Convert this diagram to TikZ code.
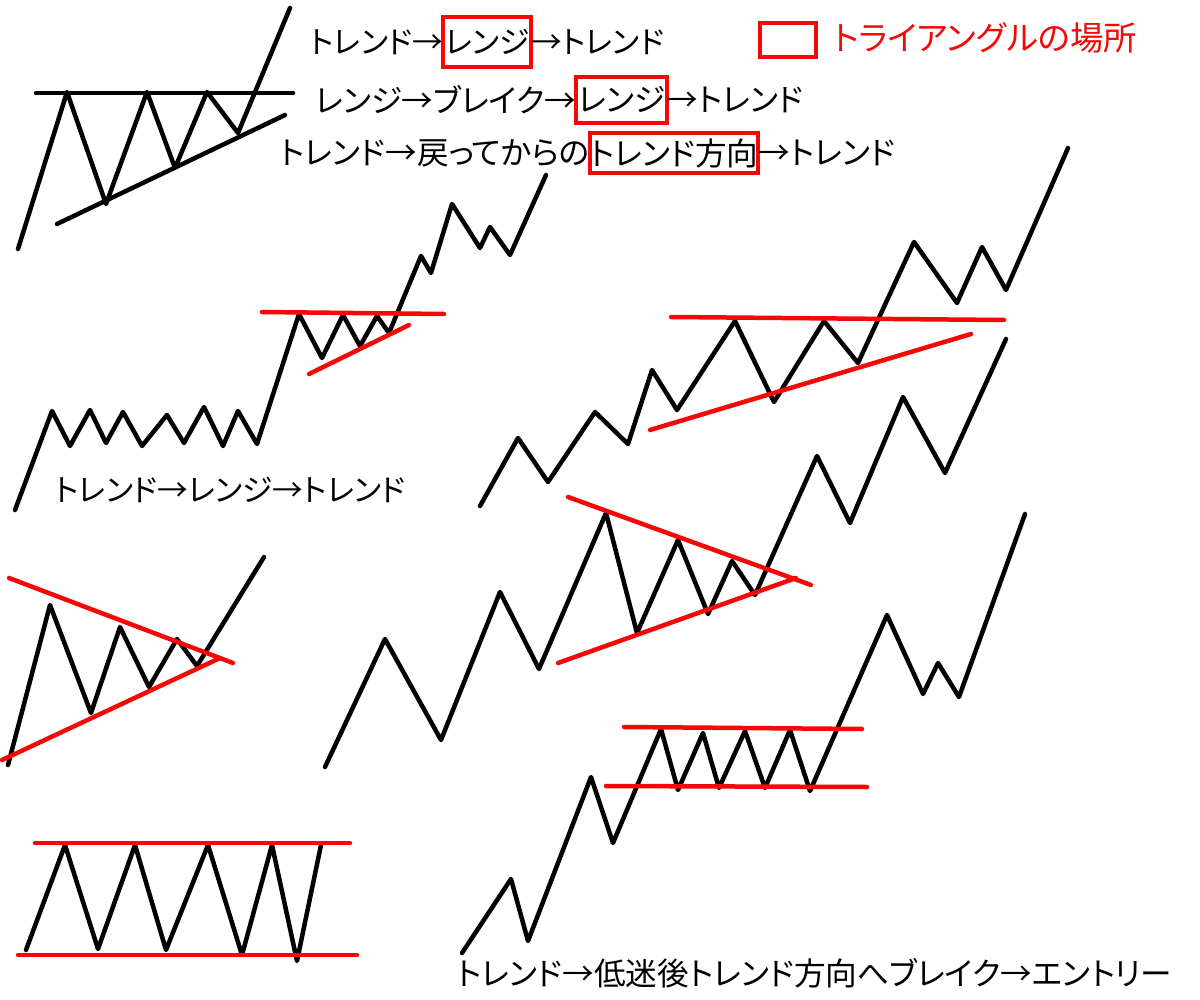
\documentclass[tikz,border=0pt]{standalone}
\usepackage{fontspec}
\newfontfamily\jp[RawFeature=+palt]{Noto Sans CJK JP}
\definecolor{rd}{RGB}{245,8,8}
\begin{document}
\begin{tikzpicture}[x=0.02cm,y=-0.02cm,
  blk/.style={line width=0.09cm, black, line cap=round, line join=round},
  redl/.style={line width=0.09cm, rd, line cap=round},
  txt/.style={font=\jp\fontsize{18}{21}\selectfont, inner sep=0pt, outer sep=0pt, anchor=west},
  smalltxt/.style={txt, font=\jp\fontsize{17.5}{21}\selectfont},
  rbox/.style={draw=rd, line width=0.08cm, inner xsep=1pt}]
\useasboundingbox[fill=white] (0,0) rectangle (1200,1000);

% ---- top texts ----
\node[smalltxt] (t1a) at (310,42) {トレンド→};
\node[smalltxt, rbox, minimum height=1.02cm] (t1b) at (t1a.east) {レンジ};
\node[smalltxt] (t1c) at (t1b.east) {→トレンド};

\node[txt] (t2a) at (315,100) {レンジ→ブレイク→};
\node[txt, rbox, minimum height=0.94cm] (t2b) at (t2a.east) {レンジ};
\node[txt] (t2c) at (t2b.east) {→トレンド};

\node[txt] (t3a) at (280,153) {トレンド→戻ってからの};
\node[txt, rbox, minimum height=0.8cm, inner xsep=0pt] (t3b) at (t3a.east) {トレンド方向};
\node[txt] (t3c) at (t3b.east) {→トレンド};

\node[draw=rd, line width=0.08cm, minimum width=1.12cm, minimum height=0.68cm, inner sep=0pt] (lg) at (788,40) {};
\node[txt, text=rd, font=\jp\fontsize{19}{22}\selectfont] (lgt) at (833,38) {トライアングルの場所};

\node[smalltxt] (cap2) at (55,490) {トレンド→レンジ→トレンド};
\node[txt] (capb) at (457,973) {トレンド→低迷後トレンド方向へブレイク→エントリー};

% ---- shape 1: ascending triangle (black) ----
\draw[blk] (36,93) -- (293,93);
\draw[blk] (57,224) -- (285,115);
\draw[blk] (18,249) -- (67,92) -- (106,204) -- (147,92) -- (175,168) -- (207,92) -- (238,133) -- (290,8);

% ---- shape 2 ----
\draw[blk] (15,510) -- (52,411) -- (70,446) -- (90,410) -- (106,443) -- (123,412) -- (142,446)
  -- (167,415) -- (184,443) -- (204,407) -- (223,446) -- (238,411) -- (257,444) -- (299,314)
  -- (322,358) -- (343,315) -- (360,346) -- (377,316) -- (389,333) -- (421,256) -- (431,273)
  -- (452,204) -- (480,248) -- (490,227) -- (510,255) -- (546,175);
\draw[redl] (262,312) -- (444,314);
\draw[redl] (309,374) -- (409,325);

% ---- shape 3 (upper right) ----
\draw[blk] (480,506) -- (518,438) -- (548,482) -- (595,412) -- (628,444) -- (652,370) -- (677,410)
  -- (735,321) -- (774,402) -- (824,321) -- (858,363) -- (914,242) -- (957,303) -- (982,247)
  -- (1006,290) -- (1068,148);
\draw[redl] (671,317) -- (1004,320);
\draw[redl] (650,430) -- (971,334);

% ---- shape 4 (middle, symmetric triangle) ----
\draw[blk] (325,767) -- (385,639) -- (441,740) -- (500,592) -- (539,669) -- (606,513) -- (637,633)
  -- (678,540) -- (708,614) -- (732,561) -- (755,595) -- (817,456) -- (850,523) -- (903,397)
  -- (945,473) -- (1006,339);
\draw[redl] (568,497) -- (811,585);
\draw[redl] (558,663) -- (796,578);

% ---- shape 5 (left triangle) ----
\draw[blk] (8,765) -- (50,605) -- (91,713) -- (120,627) -- (149,687) -- (177,639) -- (197,666) -- (264,557);
\draw[redl] (9,578) -- (233,663);
\draw[redl] (2,760) -- (220,658);

% ---- shape 6 (bottom left range) ----
\draw[blk] (26,950) -- (65,845) -- (98,949) -- (135,845) -- (166,950) -- (208,845) -- (242,955)
  -- (272,845) -- (297,961) -- (321,845);
\draw[redl] (35,843) -- (350,843);
\draw[redl] (18,955) -- (357,955);

% ---- shape 7 (bottom right) ----
\draw[blk] (462,953) -- (511,879) -- (528,941) -- (591,777) -- (613,843) -- (661,729) -- (678,790)
  -- (703,733) -- (719,788) -- (745,731) -- (765,788) -- (790,730) -- (810,791) -- (887,615)
  -- (923,694) -- (938,663) -- (959,697) -- (1025,514);
\draw[redl] (624,727) -- (862,729);
\draw[redl] (606,786) -- (867,787);
\end{tikzpicture}
\end{document}
